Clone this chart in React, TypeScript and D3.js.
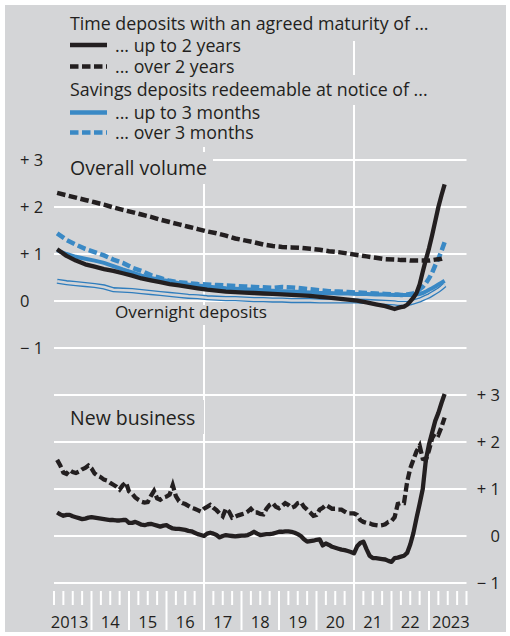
import React from 'react';
import * as d3 from 'd3';

// ---------- DATA ----------
const topDates = [
  '2013-01', '2013-04', '2013-07', '2013-10',
  '2014-01', '2014-04', '2014-07', '2014-10',
  '2015-01', '2015-04', '2015-07', '2015-10',
  '2016-01', '2016-04', '2016-07', '2016-10',
  '2017-01', '2017-04', '2017-07', '2017-10',
  '2018-01', '2018-04', '2018-07', '2018-10',
  '2019-01', '2019-04', '2019-07', '2019-10',
  '2020-01', '2020-04', '2020-07', '2020-10',
  '2021-01', '2021-04', '2021-07', '2021-10',
  '2022-01', '2022-02', '2022-03', '2022-04', '2022-05', '2022-06',
  '2022-07', '2022-08', '2022-09', '2022-10', '2022-11', '2022-12',
  '2023-01', '2023-02', '2023-03', '2023-04', '2023-05',
];

// Overall volume
const timeShortTop = [
  1.10, 0.96, 0.86, 0.78,
  0.73, 0.68, 0.64, 0.59,
  0.54, 0.48, 0.44, 0.40,
  0.36, 0.33, 0.30, 0.27,
  0.24, 0.22, 0.20, 0.19,
  0.18, 0.17, 0.16, 0.15,
  0.14, 0.13, 0.12, 0.11,
  0.09, 0.07, 0.05, 0.03,
  0.01, -0.03, -0.07, -0.11,
  -0.17, -0.15, -0.13, -0.12, -0.08, -0.01, 0.07, 0.17, 0.35, 0.62, 0.88, 1.12,
  1.40, 1.70, 2.00, 2.25, 2.48,
];
const timeLongTop = [
  2.30, 2.25, 2.20, 2.15,
  2.10, 2.05, 1.99, 1.94,
  1.89, 1.84, 1.79, 1.73,
  1.68, 1.63, 1.58, 1.53,
  1.48, 1.44, 1.39, 1.33,
  1.29, 1.25, 1.20, 1.17,
  1.15, 1.14, 1.13, 1.11,
  1.09, 1.06, 1.04, 1.01,
  0.98, 0.95, 0.92, 0.89,
  0.88, 0.88, 0.87, 0.87, 0.87, 0.86, 0.86, 0.86, 0.86, 0.86, 0.86, 0.86,
  0.87, 0.88, 0.89, 0.90, 0.92,
];
const savingsShortTop = [
  1.08, 1.00, 0.94, 0.90,
  0.86, 0.81, 0.74, 0.67,
  0.61, 0.54, 0.49, 0.45,
  0.42, 0.38, 0.35, 0.33,
  0.31, 0.29, 0.27, 0.26,
  0.25, 0.24, 0.23, 0.22,
  0.21, 0.20, 0.19, 0.18,
  0.17, 0.17, 0.16, 0.16,
  0.15, 0.15, 0.14, 0.14,
  0.13, 0.13, 0.13, 0.13, 0.13, 0.13, 0.13, 0.14, 0.15, 0.17, 0.20, 0.24,
  0.27, 0.31, 0.35, 0.39, 0.43,
];
const savingsLongTop = [
  1.44, 1.30, 1.20, 1.11,
  1.04, 0.97, 0.88, 0.81,
  0.71, 0.64, 0.55, 0.49,
  0.43, 0.40, 0.38, 0.36,
  0.35, 0.34, 0.33, 0.32,
  0.31, 0.30, 0.29, 0.28,
  0.30, 0.29, 0.27, 0.25,
  0.23, 0.21, 0.20, 0.19,
  0.18, 0.17, 0.16, 0.15,
  0.14, 0.14, 0.13, 0.13, 0.14, 0.15, 0.16, 0.20, 0.25, 0.30, 0.38, 0.48,
  0.60, 0.76, 0.90, 1.06, 1.25,
];
const overnightTop = [
  0.42, 0.39, 0.37, 0.35,
  0.33, 0.30, 0.24, 0.23,
  0.22, 0.20, 0.18, 0.16,
  0.14, 0.12, 0.10, 0.09,
  0.07, 0.06, 0.05, 0.05,
  0.04, 0.03, 0.03, 0.02,
  0.02, 0.01, 0.01, 0.01,
  0.00, 0.00, 0.00, 0.00,
  0.00, -0.01, -0.02, -0.03,
  -0.04, -0.05, -0.05, -0.05, -0.05, -0.04, -0.02, 0.00, 0.02, 0.05, 0.08, 0.11,
  0.15, 0.19, 0.23, 0.28, 0.34,
];

// New business (monthly, Jan 2013 - May 2023)
const newDates = d3
  .timeMonth.range(new Date(2013, 0, 1), new Date(2023, 5, 1))
  .map((d) => d3.timeFormat('%Y-%m')(d));

const timeShortNew = [
  0.50, 0.46, 0.43, 0.45, 0.45, 0.42, 0.40, 0.38, 0.36, 0.37, 0.39, 0.40,
  0.39, 0.38, 0.37, 0.36, 0.35, 0.34, 0.34, 0.33, 0.33, 0.34, 0.34, 0.28,
  0.28, 0.30, 0.27, 0.24, 0.23, 0.25, 0.26, 0.24, 0.22, 0.20, 0.22, 0.23,
  0.19, 0.16, 0.15, 0.15, 0.14, 0.13, 0.11, 0.10, 0.07, 0.04, 0.02, 0.00,
  0.05, 0.07, 0.05, 0.02, -0.03, 0.00, 0.02, 0.01, 0.00, -0.01, 0.00, 0.01,
  0.01, 0.02, 0.05, 0.09, 0.05, 0.02, 0.03, 0.04, 0.04, 0.05, 0.07, 0.09,
  0.09, 0.10, 0.10, 0.09, 0.07, 0.04, 0.00, -0.07, -0.12, -0.11, -0.10, -0.08,
  -0.07, -0.20, -0.16, -0.19, -0.23, -0.25, -0.27, -0.29, -0.30, -0.32, -0.34, -0.37,
  -0.22, -0.15, -0.12, -0.28, -0.42, -0.47, -0.47, -0.48, -0.49, -0.50, -0.53, -0.55,
  -0.47, -0.46, -0.44, -0.42, -0.36, -0.18, 0.06, 0.38, 0.68, 1.00, 1.62, 1.95,
  2.20, 2.45, 2.62, 2.83, 3.02,
];
const timeLongNew = [
  1.62, 1.50, 1.35, 1.32, 1.40, 1.36, 1.34, 1.37, 1.42, 1.45, 1.50, 1.44,
  1.33, 1.28, 1.25, 1.20, 1.18, 1.13, 1.09, 1.05, 0.99, 1.08, 1.14, 0.95,
  0.90, 0.82, 0.77, 0.73, 0.71, 0.72, 0.85, 0.96, 0.80, 0.77, 0.82, 0.84,
  0.88, 1.08, 0.85, 0.74, 0.70, 0.68, 0.64, 0.60, 0.58, 0.55, 0.52, 0.58,
  0.62, 0.66, 0.60, 0.55, 0.48, 0.42, 0.58, 0.52, 0.39, 0.41, 0.44, 0.46,
  0.48, 0.52, 0.58, 0.50, 0.50, 0.47, 0.46, 0.58, 0.66, 0.70, 0.62, 0.59,
  0.64, 0.70, 0.66, 0.60, 0.63, 0.70, 0.72, 0.62, 0.56, 0.50, 0.43, 0.45,
  0.56, 0.60, 0.66, 0.62, 0.58, 0.58, 0.56, 0.56, 0.52, 0.48, 0.48, 0.48,
  0.45, 0.34, 0.30, 0.28, 0.27, 0.24, 0.23, 0.22, 0.23, 0.25, 0.30, 0.32,
  0.40, 0.68, 0.70, 0.70, 1.15, 1.44, 1.62, 1.80, 1.92, 1.64, 1.62, 1.82,
  2.08, 2.19, 2.15, 2.32, 2.52,
];

const yTickValues = [-1, 0, 1, 2, 3];
const yTickLabels = ['\u2212 1', '0', '+ 1', '+ 2', '+ 3'];
const yearLabels = ['2013', '14', '15', '16', '17', '18', '19', '20', '21', '22', '2023'];
const legendTitles = [
  'Time deposits with an agreed maturity of ...',
  'Savings deposits redeemable at notice of ...',
];
const legendItems = ['... up to 2 years', '... over 2 years', '... up to 3 months', '... over 3 months'];
const panelLabels = ['Overall volume', 'New business', 'Overnight deposits'];

// ---------- STYLE ----------
const BG = '#d4d5d7';
const INK = '#231f20';
const BLUE = '#3a89c5';
const BLUE_DARK = '#2f7dbd';
const FONT = "'Open Sans', 'Noto Sans', sans-serif";
const DASH = '8.5,3.5';

const toYear = (s: string) => +s.slice(0, 4) + +s.slice(5, 7) / 12;

export default function App() {
  const x = d3.scaleLinear().domain([2013, 2024]).range([54, 466.5]);
  const yTop = d3.scaleLinear().domain([-1, 3]).range([348, 160]);
  const yNew = d3.scaleLinear().domain([-1, 3]).range([583, 395]);

  const mkLine = (dates: string[], y: d3.ScaleLinear<number, number>) =>
    d3
      .line<number>()
      .x((_, i) => x(toYear(dates[i])))
      .y((v) => y(v))
      .curve(d3.curveLinear);

  const topLine = mkLine(topDates, yTop);
  const newLine = mkLine(newDates, yNew);

  const quarters = d3.range(0, 45).map((q) => 2013 + q / 4);
  const gridX0 = x(2013);
  const gridX1 = x(2024);

  const legendRowY = [45, 66.5, 112.5, 132.5];
  const legendTextY = [51.5, 72.5, 118.5, 138.5];
  const legendStroke = [
    { c: INK, d: undefined },
    { c: INK, d: DASH },
    { c: BLUE, d: undefined },
    { c: BLUE, d: DASH },
  ];

  return (
    <svg
      width={510}
      height={636}
      style={{ position: 'absolute', left: 0, top: 0, fontFamily: FONT }}
    >
      <rect x={0} y={0} width={510} height={636} fill="#ffffff" />
      <rect x={5} y={5} width={501} height={627} fill={BG} />

      {/* horizontal gridlines */}
      {yTickValues.map((v) => (
        <line key={'gt' + v} x1={gridX0} x2={gridX1} y1={yTop(v)} y2={yTop(v)} stroke="#fff" strokeWidth={2} />
      ))}
      {yTickValues.map((v) => (
        <line key={'gn' + v} x1={gridX0} x2={gridX1} y1={yNew(v)} y2={yNew(v)} stroke="#fff" strokeWidth={2} />
      ))}
      {/* vertical gridlines */}
      {[2017, 2021].map((yr) => (
        <line key={'v' + yr} x1={x(yr)} x2={x(yr)} y1={8} y2={630} stroke="#fff" strokeWidth={2} />
      ))}
      {/* x ticks */}
      {quarters.map((q, i) => {
        const long = i % 4 === 0 && i > 0 && i < 44;
        return (
          <line key={'q' + i} x1={x(q)} x2={x(q)} y1={591} y2={long ? 630 : 605} stroke="#fff" strokeWidth={2} />
        );
      })}
      {/* year labels */}
      {yearLabels.map((lab, i) => {
        const first = i === 0;
        const last = i === yearLabels.length - 1;
        const xx = first ? x(2014) - 3 : last ? x(2023) + 3 : x(2013 + i + 0.5);
        return (
          <text key={'yl' + i} x={xx} y={628} fontSize={16.5} fill={INK} textAnchor={first ? 'end' : last ? 'start' : 'middle'}>
            {lab}
          </text>
        );
      })}

      {/* legend */}
      <rect x={62} y={8} width={380} height={33} fill={BG} />
      <rect x={62} y={40} width={190} height={36} fill={BG} />
      <rect x={62} y={75} width={380} height={30} fill={BG} />
      <rect x={62} y={104} width={200} height={43} fill={BG} />
      <text x={70} y={30} fontSize={17.8} fill={INK}>{legendTitles[0]}</text>
      <text x={70} y={96} fontSize={17.8} fill={INK}>{legendTitles[1]}</text>
      {legendItems.map((t, i) => (
        <g key={'li' + i}>
          <line
            x1={70}
            x2={107}
            y1={legendRowY[i]}
            y2={legendRowY[i]}
            stroke={legendStroke[i].c}
            strokeWidth={4.5}
            strokeDasharray={legendStroke[i].d}
          />
          <text x={115} y={legendTextY[i]} fontSize={17.8} fill={INK}>{t}</text>
        </g>
      ))}

      {/* panel labels */}
      <rect x={50} y={152} width={163} height={32} fill={BG} />
      <text x={70} y={175} fontSize={19.5} fill={INK}>{panelLabels[0]}</text>
      <rect x={54} y={400} width={150} height={34} fill={BG} />
      <text x={70} y={425} fontSize={19.5} fill={INK}>{panelLabels[1]}</text>
      <rect x={112} y={305} width={160} height={20} fill={BG} />
      <text x={115} y={318} fontSize={17.2} fill={INK}>{panelLabels[2]}</text>

      {/* y tick labels */}
      {yTickValues.map((v, i) => (
        <text key={'tl' + v} x={20} y={yTop(v) + 6} fontSize={16.5} fill={INK}>{yTickLabels[i]}</text>
      ))}
      {yTickValues.map((v, i) => (
        <text key={'tr' + v} x={500} y={yNew(v) + 6} fontSize={16.5} fill={INK} textAnchor="end">{yTickLabels[i]}</text>
      ))}

      {/* top series */}
      <g fill="none">
        <path d={topLine(overnightTop) || ''} stroke={BLUE_DARK} strokeWidth={5.2} />
        <path d={topLine(overnightTop) || ''} stroke={BG} strokeWidth={2.6} />
        <path d={topLine(savingsShortTop) || ''} stroke={BLUE} strokeWidth={4} />
        <path d={topLine(savingsLongTop) || ''} stroke={BLUE} strokeWidth={4.5} strokeDasharray={DASH} />
        <path d={topLine(timeLongTop) || ''} stroke={INK} strokeWidth={4.5} strokeDasharray={DASH} />
        <path d={topLine(timeShortTop) || ''} stroke={INK} strokeWidth={4.3} strokeLinejoin="round" />
      </g>

      {/* new business series */}
      <g fill="none">
        <path d={newLine(timeLongNew) || ''} stroke={INK} strokeWidth={4.3} strokeDasharray={DASH} />
        <path d={newLine(timeShortNew) || ''} stroke={INK} strokeWidth={4.3} strokeLinejoin="round" />
      </g>
    </svg>
  );
}
